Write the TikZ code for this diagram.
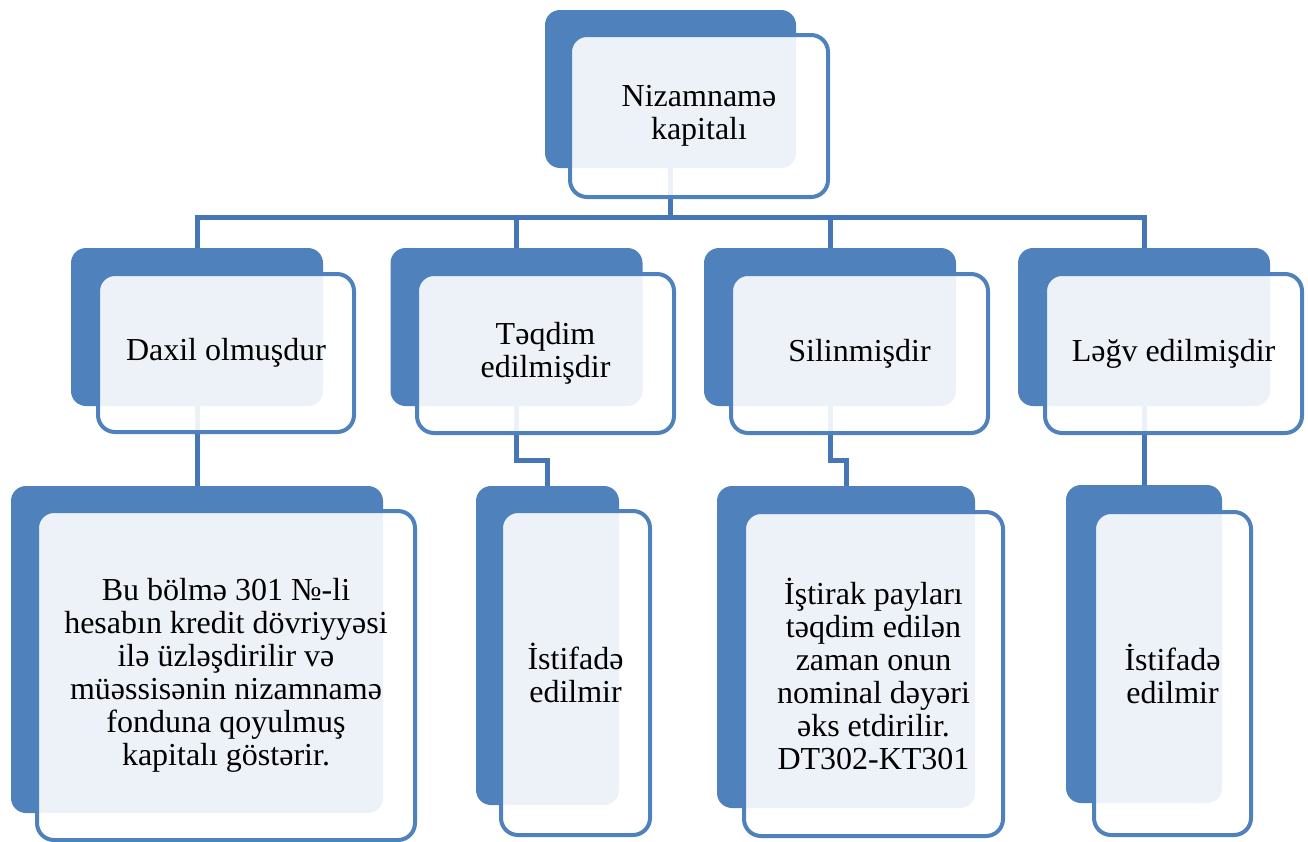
\documentclass[tikz,border=0pt]{standalone}
\usepackage{fontspec}
\newfontfamily\cardfont{LiberationSerif}[Extension=.ttf, UprightFont=*-Regular]
\definecolor{boxblue}{RGB}{79,129,189}
\definecolor{linkblue}{RGB}{70,118,182}
\tikzset{
  backbox/.style={rectangle, rounded corners=15pt, fill=boxblue, draw=none,
    inner sep=0pt, outer sep=0pt},
  frontbox/.style={rectangle, rounded corners=17pt, draw=boxblue, line width=4pt,
    fill=white, fill opacity=0.9, text opacity=1, inner sep=0pt, outer sep=0pt,
    align=center, font=\cardfont\fontsize{32}{33}\selectfont},
  link/.style={draw=linkblue, line width=5pt},
}
\begin{document}
\begin{tikzpicture}[x=1pt,y=-1pt]
\useasboundingbox (0,0) rectangle (1308,841);

% rear plates
\node[backbox, minimum width=251pt, minimum height=158pt] (topB) at (670.5,89) {};
\node[backbox, minimum width=252pt, minimum height=158pt] (daxB) at (197,327) {};
\node[backbox, minimum width=252pt, minimum height=158pt] (teqB) at (516.5,327) {};
\node[backbox, minimum width=252pt, minimum height=158pt] (silB) at (830,327) {};
\node[backbox, minimum width=252pt, minimum height=158pt] (legB) at (1144,327) {};
\node[backbox, minimum width=372pt, minimum height=327pt] (daxC) at (197,649.5) {};
\node[backbox, minimum width=143pt, minimum height=319pt] (teqC) at (547.5,645.5) {};
\node[backbox, minimum width=258pt, minimum height=322pt] (silC) at (846,647) {};
\node[backbox, minimum width=156pt, minimum height=318pt] (legC) at (1144,644) {};

% connectors
\coordinate (bus) at (0,217);
\draw[link] (topB.south) -- (topB.south |- bus) -| (daxB.north);
\draw[link] (topB.south) -- (topB.south |- bus) -| (teqB.north);
\draw[link] (topB.south) -- (topB.south |- bus) -| (silB.north);
\draw[link] (topB.south) -- (topB.south |- bus) -| (legB.north);
\draw[link] (daxB.south) -- (daxC.north);
\draw[link] (teqB.south) -- ++(0,54) -| (teqC.north);
\draw[link] (silB.south) -- ++(0,54) -| (silC.north);
\draw[link] (legB.south) -- (legC.north);

% front cards with text
\node[frontbox, minimum width=258pt, minimum height=162pt] (topF) at (699,116)
  {Nizamnamə\\kapitalı};
\node[frontbox, minimum width=256pt, minimum height=158pt] (daxF) at (226,353)
  {Daxil olmuşdur};
\node[frontbox, minimum width=257pt, minimum height=159pt] (teqF) at (545.5,353.5)
  {Təqdim\\edilmişdir};
\node[frontbox, minimum width=257pt, minimum height=159pt] (silF) at (859.5,353.5)
  {Silinmişdir};
\node[frontbox, minimum width=257pt, minimum height=159pt] (legF) at (1173.5,353.5)
  {Ləğv edilmişdir};
\node[frontbox, minimum width=378pt, minimum height=329pt] (daxD) at (226,675.5)
  {Bu bölmə 301 №-li\\hesabın kredit dövriyyəsi\\ilə üzləşdirilir və\\müəssisənin nizamnamə\\fonduna qoyulmuş\\kapitalı göstərir.};
\node[frontbox, minimum width=149pt, minimum height=324pt] (teqD) at (575.5,673)
  {İstifadə\\edilmir};
\node[frontbox, minimum width=259pt, minimum height=324pt] (silD) at (873.5,674)
  {İştirak payları\\təqdim edilən\\zaman onun\\nominal dəyəri\\əks etdirilir.\\DT302-KT301};
\node[frontbox, minimum width=157pt, minimum height=323pt] (legD) at (1172.5,673.5)
  {İstifadə\\edilmir};
\end{tikzpicture}
\end{document}
